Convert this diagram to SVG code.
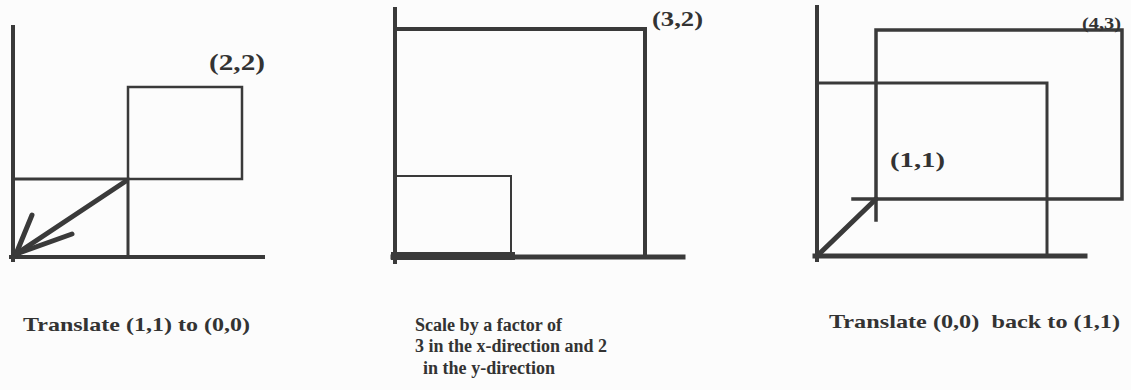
<svg xmlns="http://www.w3.org/2000/svg" width="1131" height="390" viewBox="0 0 1131 390">
<style>
.ln{stroke:#3a3a3a;fill:none;stroke-linecap:square}
.t{font-family:"Liberation Serif","DejaVu Serif",serif;font-weight:bold;fill:#333}
</style>
<rect width="1131" height="390" fill="#fcfcfc"/>
<g id="panel1">
<line class="ln" x1="13" y1="27" x2="13" y2="260" stroke-width="4"/>
<line class="ln" x1="11" y1="257" x2="263" y2="257" stroke-width="4"/>
<polyline class="ln" points="13,179 128,179 128,257" stroke-width="3"/>
<rect class="ln" x="128" y="87" width="114" height="92" stroke-width="2.5"/>
<text class="t" x="209" y="70" font-size="24" textLength="56" lengthAdjust="spacingAndGlyphs">(2,2)</text>
</g>
<g id="panel2">
<line class="ln" x1="395" y1="9" x2="395" y2="262" stroke-width="4"/>
<line class="ln" x1="393" y1="257" x2="683" y2="257" stroke-width="5"/>
<polyline class="ln" points="395,29 645,29 645,257" stroke-width="4"/>
<polyline class="ln" points="395,176 511,176 511,257" stroke-width="2"/>
<line class="ln" x1="395" y1="256" x2="511" y2="256" stroke-width="8"/>
<text class="t" x="652" y="26" font-size="22" textLength="51" lengthAdjust="spacingAndGlyphs">(3,2)</text>
</g>
<g id="panel3">
<line class="ln" x1="817" y1="7" x2="817" y2="260" stroke-width="4"/>
<line class="ln" x1="815" y1="256" x2="1085" y2="256" stroke-width="5"/>
<polyline class="ln" points="817,83 1047,83 1047,256" stroke-width="3"/>
<polyline class="ln" points="876,220 876,30 1122,30 1122,199 853,199" stroke-width="3.5"/>
<text class="t" x="890" y="167" font-size="22" textLength="55" lengthAdjust="spacingAndGlyphs">(1,1)</text>
<text class="t" x="1082" y="29" font-size="17" textLength="39" lengthAdjust="spacingAndGlyphs">(4,3)</text>
</g>
<g id="connectors" stroke="#3a3a3a" stroke-width="5" stroke-linecap="round" fill="none">
<line x1="126" y1="181" x2="16" y2="254"/>
<line x1="16" y1="254" x2="32" y2="215"/>
<line x1="16" y1="254" x2="72" y2="234"/>
<line x1="817" y1="256" x2="876" y2="199"/>
</g>
<g id="captions">
<text class="t" x="23" y="331" font-size="19" textLength="227" lengthAdjust="spacingAndGlyphs">Translate (1,1) to (0,0)</text>
<text class="t" x="415" y="331" font-size="18" textLength="147" lengthAdjust="spacingAndGlyphs">Scale by a factor of</text>
<text class="t" x="415" y="352" font-size="18" textLength="192" lengthAdjust="spacingAndGlyphs">3 in the x-direction and 2</text>
<text class="t" x="423" y="374" font-size="18" textLength="132" lengthAdjust="spacingAndGlyphs">in the y-direction</text>
<text class="t" x="829" y="328" font-size="19" textLength="291" lengthAdjust="spacingAndGlyphs" xml:space="preserve">Translate (0,0)  back to (1,1)</text>
</g>
</svg>
